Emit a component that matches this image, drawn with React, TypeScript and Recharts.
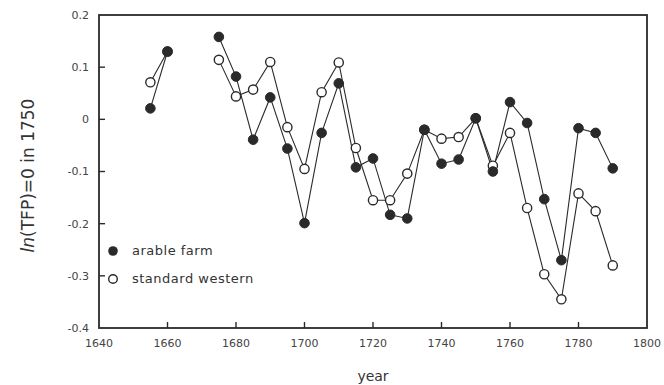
import React from 'react';
import { LineChart, Line, XAxis, YAxis } from 'recharts';

const years = [1655, 1660, 1665, 1670, 1675, 1680, 1685, 1690, 1695, 1700, 1705, 1710, 1715, 1720, 1725, 1730, 1735, 1740, 1745, 1750, 1755, 1760, 1765, 1770, 1775, 1780, 1785, 1790];
const arableFarm: (number | null)[] = [0.021, 0.13, null, null, 0.158, 0.082, -0.039, 0.042, -0.056, -0.199, -0.026, 0.069, -0.092, -0.075, -0.183, -0.19, -0.02, -0.085, -0.077, 0.002, -0.1, 0.033, -0.007, -0.153, -0.27, -0.017, -0.026, -0.094];
const standardWestern: (number | null)[] = [0.071, 0.13, null, null, 0.114, 0.044, 0.057, 0.11, -0.015, -0.095, 0.052, 0.109, -0.055, -0.155, -0.155, -0.104, -0.02, -0.037, -0.034, 0.002, -0.089, -0.026, -0.17, -0.297, -0.345, -0.142, -0.176, -0.28];
const xTicks = [1640, 1660, 1680, 1700, 1720, 1740, 1760, 1780, 1800];
const yTicks = [-0.4, -0.3, -0.2, -0.1, 0, 0.1, 0.2];
const seriesNames = ['arable farm', 'standard western'];

const data = years.map((y, i) => ({ year: y, arable: arableFarm[i], western: standardWestern[i] }));

const W = 664;
const H = 385;
const M = { top: 15, right: 17, left: 0, bottom: 0 };
const Y_AXIS_W = 99;
const X_AXIS_H = 57;
const X_DOMAIN = [1640, 1800];
const Y_DOMAIN = [-0.4, 0.2];
const PLOT = {
  left: M.left + Y_AXIS_W,
  top: M.top,
  right: W - M.right,
  bottom: H - M.bottom - X_AXIS_H,
};

const INK = '#2a2a2a';
const FONT = '"DejaVu Sans", Verdana, sans-serif';

const filledDot = (p: any) => {
  if (p.value == null || p.cy == null) return <g key={p.key} />;
  return <circle key={p.key} cx={p.cx} cy={p.cy} r={4.8} fill={INK} stroke={INK} strokeWidth={1} />;
};
const openDot = (p: any) => {
  if (p.value == null || p.cy == null) return <g key={p.key} />;
  return <circle key={p.key} cx={p.cx} cy={p.cy} r={4.6} fill="#fff" stroke={INK} strokeWidth={1.4} />;
};

const fmtY = (v: number) => (v === 0 ? '0' : v.toFixed(1));

const yLabel = (props: any) => {
  const vb = props.viewBox || { x: 0, y: 15, width: 99, height: 313 };
  const cy = vb.y + vb.height / 2 + 4;
  const cx = 29;
  return (
    <text x={cx} y={cy} transform={`rotate(-90 ${cx} ${cy})`} textAnchor="middle" dominantBaseline="middle" fontFamily={FONT} fontSize={17} fill="#333">
      <tspan fontStyle="italic">ln</tspan>
      <tspan>(TFP)=0 in 1750</tspan>
    </text>
  );
};

// Plot frame with inward ticks, aligned to the chart's plot box
const Frame = () => {
  const pw = PLOT.right - PLOT.left;
  const ph = PLOT.bottom - PLOT.top;
  const sx = (v: number) => PLOT.left + ((v - X_DOMAIN[0]) / (X_DOMAIN[1] - X_DOMAIN[0])) * pw;
  const sy = (v: number) => PLOT.bottom - ((v - Y_DOMAIN[0]) / (Y_DOMAIN[1] - Y_DOMAIN[0])) * ph;
  return (
    <svg width={W} height={H} style={{ position: 'absolute', left: 0, top: 0, pointerEvents: 'none' }}>
      <rect x={PLOT.left} y={PLOT.top} width={pw} height={ph} fill="none" stroke={INK} strokeWidth={1.8} />
      {xTicks.slice(1, -1).map((t) => (
        <line key={`x${t}`} x1={sx(t)} x2={sx(t)} y1={PLOT.bottom} y2={PLOT.bottom - 6} stroke={INK} strokeWidth={1.4} />
      ))}
      {yTicks.slice(1, -1).map((t) => (
        <line key={`y${t}`} x1={PLOT.left} x2={PLOT.left + 6} y1={sy(t)} y2={sy(t)} stroke={INK} strokeWidth={1.4} />
      ))}
    </svg>
  );
};

export default function App() {
  return (
    <div style={{ position: 'absolute', left: 0, top: 0, width: W, height: H, background: '#fff' }}>
      <LineChart width={W} height={H} data={data} margin={M}>
        <XAxis
          dataKey="year"
          type="number"
          domain={X_DOMAIN}
          ticks={xTicks}
          interval={0}
          height={X_AXIS_H}
          axisLine={false}
          tickLine={false}
          tickSize={0}
          tickMargin={11}
          tick={{ fontFamily: FONT, fontSize: 11, fill: '#444' }}
          label={{ value: 'year', position: 'insideBottom', offset: 4, style: { fontFamily: FONT, fontSize: 14, fill: '#333' } }}
        />
        <YAxis
          type="number"
          domain={Y_DOMAIN}
          ticks={yTicks}
          interval={0}
          width={Y_AXIS_W}
          tickFormatter={fmtY}
          axisLine={false}
          tickLine={false}
          tickSize={0}
          tickMargin={10}
          tick={{ fontFamily: FONT, fontSize: 11, fill: '#444' }}
          label={{ content: yLabel }}
        />
        <Line dataKey="western" stroke={INK} strokeWidth={1.1} dot={openDot} activeDot={false} isAnimationActive={false} connectNulls={false} />
        <Line dataKey="arable" stroke={INK} strokeWidth={1.1} dot={filledDot} activeDot={false} isAnimationActive={false} connectNulls={false} />
      </LineChart>
      <Frame />
      <div style={{ position: 'absolute', left: 106, top: 237, fontFamily: FONT, fontSize: 13, color: '#333', lineHeight: '28px' }}>
        <div style={{ display: 'flex', alignItems: 'center' }}>
          <svg width={20} height={12}><circle cx={7} cy={6} r={4.8} fill={INK} /></svg>
          <span style={{ marginLeft: 6, letterSpacing: 0.5 }}>{seriesNames[0]}</span>
        </div>
        <div style={{ display: 'flex', alignItems: 'center' }}>
          <svg width={20} height={12}><circle cx={7} cy={6} r={4.3} fill="#fff" stroke={INK} strokeWidth={1.4} /></svg>
          <span style={{ marginLeft: 6, letterSpacing: 0.5 }}>{seriesNames[1]}</span>
        </div>
      </div>
    </div>
  );
}
